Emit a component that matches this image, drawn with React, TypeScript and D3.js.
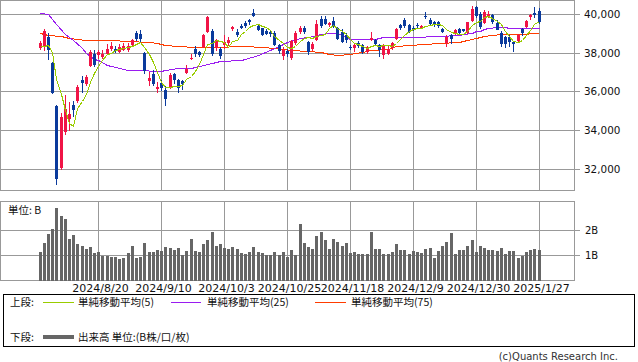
import React from "react";
import * as d3 from "d3";

// x-axis tick positions (candle index) and labels
const tickIdx = [14, 29, 44, 59, 74, 89, 104, 119];
const tickLabels = ["2024/8/20", "2024/9/10", "2024/10/3", "2024/10/25", "2024/11/18", "2024/12/9", "2024/12/30", "2025/1/27"];
const priceTicks = [32000, 34000, 36000, 38000, 40000];
const volTicks = [1, 2];
const volTickLabels = ["1B", "2B"];

const opens = [
  38250, 38350, 38800, 37480, 35249, 32077, 33900, 34600, 35300, 35500,
  36600, 36400, 37300, 37950, 37900, 37800, 37950, 38200, 38180, 38050,
  38150, 38150, 38400, 39040, 38950, 38000, 36530, 36900, 36140, 36450,
  36100, 36200, 36900, 36600, 36560, 36960, 37690, 38190, 38050, 38320,
  39090, 39130, 38240, 38190, 38400, 38500, 39215, 39075, 39400, 39550,
  39680, 40070, 39385, 39265, 39100, 39050, 39010, 38400, 37810, 38100,
  37730, 38500, 39050, 39300, 38530, 38200, 38670, 39750, 39750, 39450,
  39650, 39300, 39090, 38900, 38300, 38250, 38500, 38400, 38050, 38650,
  38650, 38400, 37900, 37950, 38250, 38700, 39450, 39700, 39450, 39300,
  39450, 39300, 39900, 39700, 39600, 39600, 39200, 38500, 38900, 38950,
  39200, 39200, 39010, 39660, 40340, 40000, 39560, 39900, 39950, 39560,
  39040, 38800, 38800, 38560, 38600, 39250, 39350, 39830, 40050, 40170,
];
const highs = [
  38600, 39200, 39000, 37500, 35301, 34911, 35800, 35450, 35500, 36330,
  36800, 36850, 38150, 38150, 38150, 38150, 38450, 38550, 38350, 38450,
  38500, 38500, 38700, 39100, 39150, 38050, 37000, 37100, 36500, 36600,
  36300, 36950, 36950, 36650, 36600, 37350, 37950, 38350, 38100, 38950,
  39900, 39200, 38700, 38300, 38900, 38800, 39400, 39200, 39500, 39650,
  39750, 40250, 39450, 39300, 39200, 39150, 39100, 38450, 38300, 38200,
  38650, 39100, 39400, 39400, 38600, 38550, 39700, 39900, 39900, 39600,
  39850, 39350, 39200, 39000, 38400, 38500, 38600, 38450, 38350, 39090,
  38700, 38450, 38450, 38350, 38550, 39300, 39500, 39800, 39500, 39400,
  39550, 39450, 40100, 39800, 39650, 39650, 39300, 38900, 38950, 39200,
  39300, 39250, 39600, 40400, 40400, 40100, 40200, 40150, 40000, 39700,
  39100, 38850, 38900, 38600, 38950, 39300, 39700, 40000, 40350, 40300,
];
const lows = [
  38150, 38100, 37650, 35880, 31156, 31961, 33750, 33950, 34700, 35400,
  35900, 36300, 37250, 37250, 37700, 37700, 37900, 38100, 38000, 38000,
  38100, 38050, 38300, 38600, 38550, 36900, 36300, 36300, 35900, 36000,
  35250, 36150, 36400, 35900, 36100, 36900, 37600, 37800, 37800, 38250,
  39000, 37850, 38100, 37700, 38200, 38350, 39100, 38800, 39200, 39300,
  39450, 39850, 39100, 38850, 38900, 38800, 38350, 37950, 37650, 37800,
  37650, 38400, 38950, 38950, 37900, 38100, 38600, 39300, 39450, 39350,
  39300, 38650, 38500, 38500, 38150, 38050, 38250, 37950, 37950, 38600,
  38350, 37800, 37700, 37900, 38150, 38650, 39150, 39300, 39000, 39100,
  39250, 39200, 39750, 39400, 39350, 39300, 39000, 38300, 38450, 38900,
  38950, 39050, 38950, 39600, 39800, 39250, 39500, 39800, 39500, 39150,
  38300, 38250, 38300, 38050, 38550, 38850, 39300, 39700, 39800, 39500,
];
const closes = [
  38525, 39101, 38126, 35909, 31458, 34675, 35089, 34831, 35025, 36232,
  36442, 36726, 38062, 37388, 38062, 37951, 38211, 38364, 38110, 38288,
  38371, 38362, 38647, 38700, 38686, 37047, 36700, 36391, 36215, 36159,
  35619, 36833, 36581, 36203, 36380, 37155, 37723, 37940, 37870, 38925,
  39829, 37919, 38651, 37808, 38552, 38635, 39332, 38937, 39277, 39380,
  39605, 39910, 39180, 38911, 38981, 38954, 38411, 38104, 38143, 37913,
  38605, 39027, 39277, 39081, 38053, 38474, 39480, 39381, 39500, 39533,
  39376, 38721, 38535, 38642, 38220, 38414, 38352, 38026, 38283, 38780,
  38442, 38134, 38349, 38208, 38513, 39248, 39276, 39395, 39091, 39160,
  39367, 39372, 39849, 39470, 39457, 39364, 39081, 38813, 38701, 39161,
  39036, 39130, 39568, 40281, 39894, 39307, 40083, 39981, 39605, 39190,
  38474, 38444, 38572, 38451, 38902, 39027, 39646, 39958, 39931, 39565,
];
// volume, billions of shares
const volumes = [
  1.12, 1.46, 1.81, 2.04, 2.85, 2.54, 2.42, 1.65, 1.77, 1.42,
  1.38, 1.23, 1.31, 1.08, 1.12, 0.96, 0.96, 0.92, 0.92, 0.85,
  0.88, 1.08, 1.38, 0.88, 0.92, 1.46, 1.12, 1.12, 1.19, 1.15,
  1.31, 1.27, 1.19, 1.27, 1.00, 1.15, 1.65, 1.15, 1.12, 1.42,
  1.61, 1.92, 1.35, 1.42, 1.27, 1.23, 1.31, 1.23, 1.08, 1.04,
  1.12, 1.31, 1.12, 1.08, 1.00, 1.00, 1.12, 1.00, 1.12, 0.92,
  1.19, 1.00, 2.23, 1.46, 1.31, 1.23, 1.73, 1.92, 1.61, 1.23,
  1.65, 1.50, 1.35, 1.46, 1.08, 1.12, 1.04, 1.04, 1.04, 1.92,
  1.23, 1.23, 1.04, 1.04, 1.12, 1.42, 1.19, 1.19, 1.04, 1.15,
  1.12, 1.08, 1.23, 1.27, 0.88, 1.15, 1.35, 1.50, 1.85, 1.04,
  1.19, 1.19, 1.35, 1.61, 1.12, 1.38, 1.27, 1.19, 1.19, 1.15,
  1.27, 1.04, 1.15, 1.15, 0.88, 0.96, 1.12, 1.19, 1.23, 1.19,
];
// closes of the 4 sessions before the first candle (for the 5-day average)
const priorCloses = [39154, 37869, 37667, 38468];
// 25-day and 75-day averages: [candle index, value]
const ma25Pts: [number, number][] = [
  [0, 40036], [2, 40000], [4, 39490], [6, 38950], [8, 38667], [10, 38250], [11, 37985],
  [13, 37700], [14, 37641], [16, 37385], [17, 37300], [21, 37128], [24, 37128], [28, 37041],
  [29, 37041], [30, 37128], [33, 37215], [36, 37215], [38, 37330], [41, 37472], [43, 37554],
  [48, 37600], [49, 37677], [52, 37897], [55, 38154], [57, 38323], [59, 38579], [62, 38754],
  [64, 38836], [67, 38950], [69, 39010], [71, 39010], [72, 38923], [73, 38836], [74, 38700],
  [80, 38700], [82, 38800], [89, 38836], [95, 38872], [100, 38890], [101, 38960], [103, 39010],
  [104, 39100], [105, 39144], [106, 39200], [107, 39267], [109, 39330], [111, 39349],
  [112, 39300], [119, 39267],
];
const ma75Pts: [number, number][] = [
  [0, 39010], [2, 38923], [5, 38846], [7, 38769], [11, 38667], [17, 38650], [21, 38631],
  [26, 38579], [28, 38528], [30, 38410], [33, 38323], [37, 38300], [41, 38290], [49, 38323],
  [53, 38280], [56, 38220], [60, 38154], [64, 38070], [67, 38015], [69, 37960], [71, 37900],
  [74, 37949], [77, 38015], [79, 38154], [83, 38200], [85, 38323], [88, 38400], [92, 38460],
  [95, 38497], [100, 38540], [102, 38667], [104, 38754], [106, 38840], [108, 38923],
  [110, 38974], [114, 38990], [119, 39010],
];

const UP = "#f01446";
const DOWN = "#0a3a9c";
const GRID = "#999999";
const C5 = "#99cc00";
const C25 = "#9a1cf0";
const C75 = "#ff3c00";
const FONT = "'DejaVu Sans', Verdana, sans-serif";
const JFONT = "'Noto Sans CJK JP', 'DejaVu Sans', sans-serif";

export default function App() {
  const x = d3.scaleLinear().domain([0, 119]).range([39.6, 538.6]);
  const y = d3.scaleLinear().domain([30916, 40722]).range([190, 0]);
  const yv = d3.scaleLinear().domain([0, 3.11]).range([281, 201]);

  const allCloses = priorCloses.concat(closes);
  const ma5 = closes.map((_, i) => d3.mean(allCloses.slice(i, i + 5)) as number);

  const px = (i: number) => Math.round(x(i));
  const line = d3.line<[number, number]>().x((d) => px(d[0]) + 0.5).y((d) => Math.round(y(d[1])) + 0.5);
  const ma5Path = line(ma5.map((v, i) => [i, v] as [number, number])) || "";
  const ma25Path = line(ma25Pts) || "";
  const ma75Path = line(ma75Pts) || "";

  const mainR = 574.5;

  return (
    <svg width={638} height={362} style={{ position: "absolute", left: 0, top: 0, background: "#fff" }}>
      <rect x={0} y={0} width={638} height={362} fill="#fff" />
      {/* main panel grid */}
      <g shapeRendering="crispEdges" stroke={GRID} strokeWidth={1}>
        {priceTicks.map((t) => (
          <line key={t} x1={0} x2={580} y1={Math.round(y(t)) + 0.5} y2={Math.round(y(t)) + 0.5} />
        ))}
        {tickIdx.map((t) => (
          <line key={t} x1={px(t) + 0.5} x2={px(t) + 0.5} y1={0} y2={190} />
        ))}
        <rect x={0.5} y={0.5} width={574} height={190} fill="none" />
      </g>
      {priceTicks.map((t) => (
        <text key={t} x={584} y={Math.round(y(t)) + 4} fontFamily={FONT} fontSize={10.4} fill="#111">
          {d3.format(",")(t)}
        </text>
      ))}
      {/* moving averages */}
      <g fill="none" strokeWidth={1} shapeRendering="crispEdges">
        <path d={ma75Path} stroke={C75} />
        <path d={ma25Path} stroke={C25} />
      </g>
      {/* candles */}
      <g shapeRendering="crispEdges">
        {closes.map((c, i) => {
          const o = opens[i];
          const col = c >= o ? UP : DOWN;
          const cx = px(i);
          const top = Math.round(y(Math.max(o, c)));
          const bot = Math.round(y(Math.min(o, c)));
          return (
            <g key={i}>
              <line x1={cx + 0.5} x2={cx + 0.5} y1={Math.round(y(highs[i]))} y2={Math.round(y(lows[i]))} stroke={col} />
              <rect x={cx - 1} y={top} width={3} height={Math.max(1, bot - top)} fill={col} />
            </g>
          );
        })}
      </g>
      <path d={ma5Path} fill="none" stroke={C5} strokeWidth={1} shapeRendering="crispEdges" />

      {/* volume panel */}
      <g shapeRendering="crispEdges" stroke={GRID} strokeWidth={1}>
        {volTicks.map((t) => (
          <line key={t} x1={0} x2={580} y1={Math.round(yv(t)) + 0.5} y2={Math.round(yv(t)) + 0.5} />
        ))}
        {tickIdx.map((t) => (
          <line key={t} x1={px(t) + 0.5} x2={px(t) + 0.5} y1={201} y2={281} />
        ))}
        <rect x={0.5} y={201.5} width={574} height={79} fill="none" />
      </g>
      <g shapeRendering="crispEdges" fill="#666">
        {volumes.map((v, i) => (
          <rect key={i} x={px(i) - 1} y={Math.round(yv(v))} width={3} height={281 - Math.round(yv(v))} />
        ))}
      </g>
      {volTicks.map((t, k) => (
        <text key={t} x={585} y={Math.round(yv(t)) + 4} fontFamily={FONT} fontSize={10} fill="#111">
          {volTickLabels[k]}
        </text>
      ))}
      <text x={8} y={214} fontFamily={JFONT} fontSize={10.5} fill="#111">単位: B</text>
      {tickIdx.map((t, k) => (
        <text key={t} x={px(t) + 2.5} y={291.5} textAnchor="middle" fontFamily={FONT} fontSize={11} fill="#111">
          {tickLabels[k]}
        </text>
      ))}

      {/* legend */}
      <rect x={3.5} y={294.5} width={631} height={52} fill="none" stroke="#000" strokeWidth={1} shapeRendering="crispEdges" />
      <g fontFamily={JFONT} fontSize={10.5} fill="#111">
        <text x={10} y={306}>上段:</text>
        <text x={78} y={306}>単純移動平均(5)</text>
        <text x={207} y={306}>単純移動平均(25)</text>
        <text x={351} y={306}>単純移動平均(75)</text>
        <text x={10} y={341}>下段:</text>
        <text x={78} y={341}>出来高 単位:(B株/口/枚)</text>
      </g>
      <g shapeRendering="crispEdges">
        <line x1={43} x2={74} y1={302.5} y2={302.5} stroke={C5} />
        <line x1={171} x2={201} y1={302.5} y2={302.5} stroke={C25} />
        <line x1={315} x2={346} y1={302.5} y2={302.5} stroke={C75} />
        <line x1={43} x2={74} y1={337} y2={337} stroke="#666" strokeWidth={4} />
      </g>
      <text x={618} y={360} textAnchor="end" fontFamily={FONT} fontSize={10} fill="#333">(c)Quants Research Inc.</text>
    </svg>
  );
}
